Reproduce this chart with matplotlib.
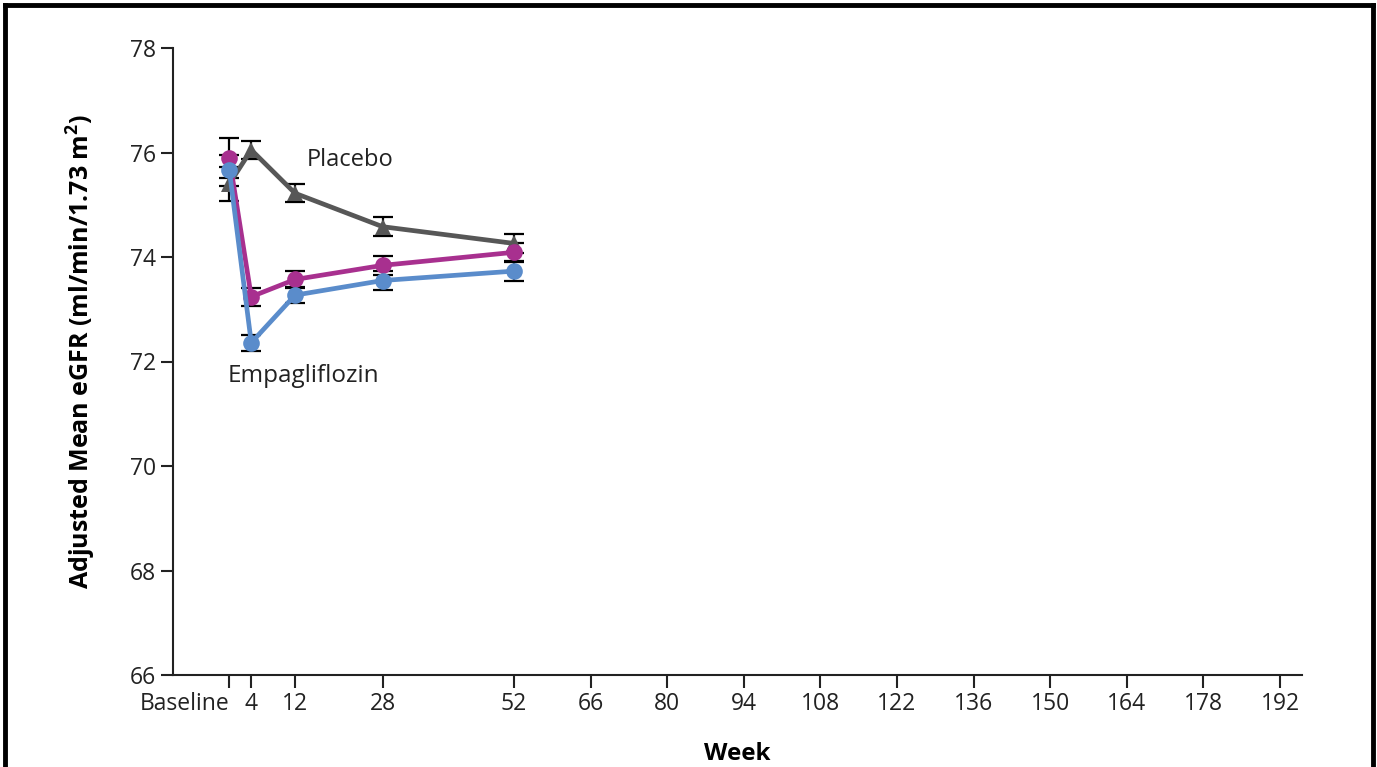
import matplotlib
matplotlib.use("Agg")
import matplotlib.pyplot as plt
from matplotlib.lines import Line2D

plt.rcParams['font.family'] = ['Open Sans', 'DejaVu Sans']

# Data
weeks = [0, 4, 12, 28, 52]
placebo = [75.40, 76.05, 75.22, 74.58, 74.26]
placebo_err = [0.32, 0.17, 0.17, 0.18, 0.18]
empa10 = [75.89, 73.24, 73.57, 73.84, 74.09]
empa10_err = [0.38, 0.17, 0.17, 0.18, 0.18]
empa25 = [75.66, 72.36, 73.27, 73.55, 73.73]
empa25_err = [0.30, 0.15, 0.15, 0.18, 0.19]

xtick_pos = [0, 4, 12, 28, 52, 66, 80, 94, 108, 122, 136, 150, 164, 178, 192]
xtick_labels = ['Baseline', '4'] + [str(v) for v in xtick_pos[2:]]
ytick_pos = [66, 68, 70, 72, 74, 76, 78]

gray = '#575757'
magenta = '#a8308f'
blue = '#5a8ccb'

fig = plt.figure(figsize=(13.77, 7.67), dpi=100)
ax = fig.add_axes([173 / 1377, 1 - 675 / 767, (1302 - 173) / 1377, (675 - 48) / 767])

series = [
    (placebo, placebo_err, gray, '^'),
    (empa10, empa10_err, magenta, 'o'),
    (empa25, empa25_err, blue, 'o'),
]
for vals, err, col, mk in series:
    ax.errorbar(weeks, vals, yerr=err, fmt='none', ecolor='black',
                elinewidth=1.6, capsize=7, capthick=1.6, zorder=2)
    ax.plot(weeks, vals, color=col, linewidth=3.4, marker=mk,
            markersize=12, markeredgewidth=0, zorder=3)

ax.text(14.2, 75.86, 'Placebo', fontsize=17, va='center', ha='left', color='#222222')
ax.text(-0.3, 71.72, 'Empagliflozin', fontsize=17.5, va='center', ha='left', color='#222222')

ax.set_xlim(-10.3, 196)
ax.set_ylim(66, 78)
ax.set_xticks(xtick_pos)
ax.set_xticklabels(xtick_labels)
ax.set_yticks(ytick_pos)
ax.tick_params(axis='both', direction='out', length=9, width=1.5,
               labelsize=16.5, colors='#222222', pad=3)
ax.get_xticklabels()[0].set_ha('right')
ax.spines['top'].set_visible(False)
ax.spines['right'].set_visible(False)
for s in ['left', 'bottom']:
    ax.spines[s].set_linewidth(1.5)
    ax.spines[s].set_color('#222222')

ax.set_xlabel('Week', fontsize=17.5, fontweight='bold', labelpad=19)
ax.set_ylabel('Adjusted Mean eGFR (ml/min/1.73 m$^\\mathregular{2}$)',
              fontsize=18, fontweight='bold')
ax.yaxis.set_label_coords(-0.066, 0.515)

# Border frame around the figure (bottom edge is cut off in the reference)
for xs, ys in [([5 / 1377, 5 / 1377], [-0.1, 1 - 5 / 767]),
               ([5 / 1377, 1373 / 1377], [1 - 5 / 767, 1 - 5 / 767]),
               ([1373 / 1377, 1373 / 1377], [-0.1, 1 - 5 / 767])]:
    fig.add_artist(Line2D(xs, ys, color='black', linewidth=3.5,
                          transform=fig.transFigure))

fig.savefig('out.png', dpi=100)
